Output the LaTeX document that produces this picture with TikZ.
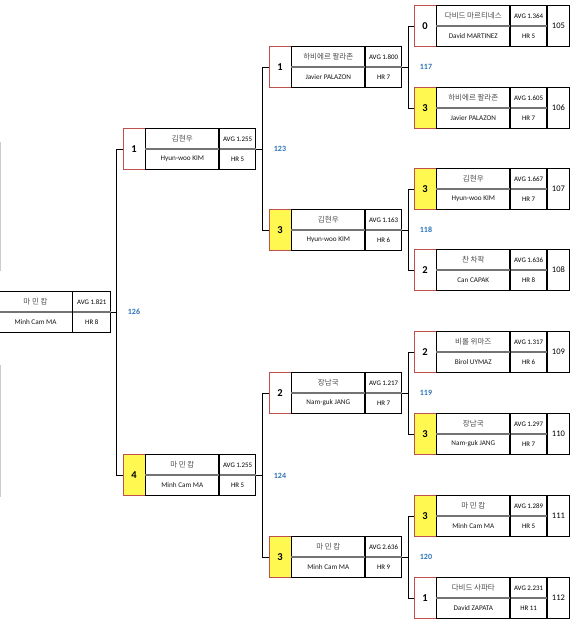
\documentclass[tikz,border=0pt]{standalone}
\usepackage{fontspec}
\setmainfont{Carlito}
\newfontfamily\kr{Noto Sans CJK KR}
\usetikzlibrary{calc}
\definecolor{sred}{RGB}{192,80,77}
\definecolor{syel}{RGB}{255,248,80}
\definecolor{lblue}{RGB}{46,117,182}
\tikzset{
 scorebox/.style={draw=sred, line width=0.8pt, minimum width=22pt, minimum height=41pt, inner sep=0pt, font=\bfseries\fontsize{10.5}{10.5}\selectfont},
 win/.style={fill=syel},
 lose/.style={fill=white},
 namebox/.style={draw=black, line width=0.8pt, minimum width=73pt, minimum height=41pt, inner sep=0pt},
 avgbox/.style={draw=black, line width=0.8pt, minimum width=36pt, minimum height=41pt, inner sep=0pt},
 numbox/.style={draw=black, line width=0.8pt, minimum width=22pt, minimum height=41pt, inner sep=0pt, font=\fontsize{8.5}{9}\selectfont},
 midline/.style={draw=black!55, line width=1.3pt},
 kortext/.style={font=\kr\fontsize{7.5}{7.5}\selectfont, text=black!70, inner sep=0pt},
 engtext/.style={font=\fontsize{7.2}{7.2}\selectfont, text=black!90, inner sep=0pt},
 stattext/.style={font=\fontsize{6.9}{7}\selectfont, text=black, inner sep=0pt},
 conn/.style={draw=black, line width=0.8pt},
 matchlbl/.style={font=\bfseries\fontsize{8}{8}\selectfont, text=lblue, inner sep=0pt},
 faint/.style={draw=black!20, line width=1pt},
}
% #1 id, #2 x-left, #3 y-center, #4 score, #5 win/lose, #6 korean, #7 english, #8 avg, #9 hr
\newcommand{\playerbox}[9]{%
 \node[scorebox,#5] (#1s) at (#2+11,#3) {#4};
 \node[namebox, anchor=west] (#1n) at (#1s.east) {};
 \node[avgbox, anchor=west] (#1a) at (#1n.east) {};
 \draw[midline] (#1n.west) -- (#1a.east);
 \draw[line width=0.8pt] (#1n.north east) -- (#1n.south east);
 \node[kortext] (#1k) at ($(#1n.center)+(0,-10)$) {#6};
 \node[engtext] (#1e) at ($(#1n.center)+(0,10)$) {#7};
 \node[stattext] (#1v) at ($(#1a.center)+(0,-10)$) {AVG #8};
 \node[stattext] (#1h) at ($(#1a.center)+(0,10)$) {HR #9};
}
\begin{document}
\begin{tikzpicture}[x=1pt,y=-1pt]
\useasboundingbox (0,0) rectangle (571,623);
\fill[white] (0,0) rectangle (571,623);
% faint lines at left edge
\draw[faint] (0.5,142) -- (0.5,271);
\draw[faint] (0.5,365) -- (0.5,497);

% Final
\node[namebox, minimum width=73pt] (fn) at (35.5,312) {};
\node[avgbox, minimum width=38pt, anchor=west] (fa) at (fn.east) {};
\draw[midline] (fn.west) -- (fa.east);
\draw[line width=0.8pt] (fn.north east) -- (fn.south east);
\node[kortext] (fk) at ($(fn.center)+(0,-10)$) {마 민 캄};
\node[engtext] (fe) at ($(fn.center)+(0,10)$) {Minh Cam MA};
\node[stattext] (fv) at ($(fa.center)+(0,-10)$) {AVG 1.821};
\node[stattext] (fh) at ($(fa.center)+(0,10)$) {HR 8};

% Semifinals
\playerbox{sfa}{123}{149}{1}{lose}{김현우}{Hyun-woo KIM}{1.255}{5}
\playerbox{sfb}{123}{475}{4}{win}{마 민 캄}{Minh Cam MA}{1.255}{5}

% Quarterfinals
\playerbox{qfa}{269}{67}{1}{lose}{하비에르 팔라존}{Javier PALAZON}{1.800}{7}
\playerbox{qfb}{269}{230}{3}{win}{김현우}{Hyun-woo KIM}{1.163}{6}
\playerbox{qfc}{269}{393}{2}{lose}{장남국}{Nam-guk JANG}{1.217}{7}
\playerbox{qfd}{269}{557}{3}{win}{마 민 캄}{Minh Cam MA}{2.636}{9}

% Round of 16
\playerbox{ra}{414}{26}{0}{lose}{다비드 마르티네스}{David MARTINEZ}{1.364}{5}
\node[numbox, anchor=west] (ram) at (raa.east) {105};
\playerbox{rb}{414}{108}{3}{win}{하비에르 팔라존}{Javier PALAZON}{1.605}{7}
\node[numbox, anchor=west] (rbm) at (rba.east) {106};
\playerbox{rc}{414}{189}{3}{win}{김현우}{Hyun-woo KIM}{1.667}{7}
\node[numbox, anchor=west] (rcm) at (rca.east) {107};
\playerbox{rd}{414}{270}{2}{lose}{찬 차팍}{Can CAPAK}{1.636}{8}
\node[numbox, anchor=west] (rdm) at (rda.east) {108};
\playerbox{re}{414}{352}{2}{lose}{비롤 위마즈}{Birol UYMAZ}{1.317}{6}
\node[numbox, anchor=west] (rem) at (rea.east) {109};
\playerbox{rf}{414}{434}{3}{win}{장남국}{Nam-guk JANG}{1.297}{7}
\node[numbox, anchor=west] (rfm) at (rfa.east) {110};
\playerbox{rg}{414}{516}{3}{win}{마 민 캄}{Minh Cam MA}{1.289}{5}
\node[numbox, anchor=west] (rgm) at (rga.east) {111};
\playerbox{rh}{414}{598}{1}{lose}{다비드 사파타}{David ZAPATA}{2.231}{11}
\node[numbox, anchor=west] (rhm) at (rha.east) {112};

% Bracket joints
\coordinate (j126t) at (116,149);
\coordinate (j126b) at (116,475);
\coordinate (j123t) at (262,67);
\coordinate (j123b) at (262,230);
\coordinate (j124t) at (262,393);
\coordinate (j124b) at (262,557);
\coordinate (j117t) at (408,26);
\coordinate (j117b) at (408,108);
\coordinate (j118t) at (408,189);
\coordinate (j118b) at (408,270);
\coordinate (j119t) at (408,352);
\coordinate (j119b) at (408,434);
\coordinate (j120t) at (408,516);
\coordinate (j120b) at (408,598);

% Connectors: final
\draw[conn] (fa.east) -- (fa.east -| j126t);
\draw[conn] (j126t) -- (j126b);
\draw[conn] (j126t) -- (sfas.west);
\draw[conn] (j126b) -- (sfbs.west);
% semifinals
\draw[conn] (sfaa.east) -- (sfaa.east -| j123t);
\draw[conn] (j123t) -- (j123b);
\draw[conn] (j123t) -- (qfas.west);
\draw[conn] (j123b) -- (qfbs.west);
\draw[conn] (sfba.east) -- (sfba.east -| j124t);
\draw[conn] (j124t) -- (j124b);
\draw[conn] (j124t) -- (qfcs.west);
\draw[conn] (j124b) -- (qfds.west);
% quarterfinals
\draw[conn] (qfaa.east) -- (qfaa.east -| j117t);
\draw[conn] (j117t) -- (j117b);
\draw[conn] (j117t) -- (ras.west);
\draw[conn] (j117b) -- (rbs.west);
\draw[conn] (qfba.east) -- (qfba.east -| j118t);
\draw[conn] (j118t) -- (j118b);
\draw[conn] (j118t) -- (rcs.west);
\draw[conn] (j118b) -- (rds.west);
\draw[conn] (qfca.east) -- (qfca.east -| j119t);
\draw[conn] (j119t) -- (j119b);
\draw[conn] (j119t) -- (res.west);
\draw[conn] (j119b) -- (rfs.west);
\draw[conn] (qfda.east) -- (qfda.east -| j120t);
\draw[conn] (j120t) -- (j120b);
\draw[conn] (j120t) -- (rgs.west);
\draw[conn] (j120b) -- (rhs.west);

% Match labels
\node[matchlbl] (l126) at (134,312) {126};
\node[matchlbl] (l123) at (280,149) {123};
\node[matchlbl] (l124) at (280,476) {124};
\node[matchlbl] (l117) at (426,67) {117};
\node[matchlbl] (l118) at (426,230) {118};
\node[matchlbl] (l119) at (426,393) {119};
\node[matchlbl] (l120) at (426,557) {120};
\end{tikzpicture}
\end{document}
